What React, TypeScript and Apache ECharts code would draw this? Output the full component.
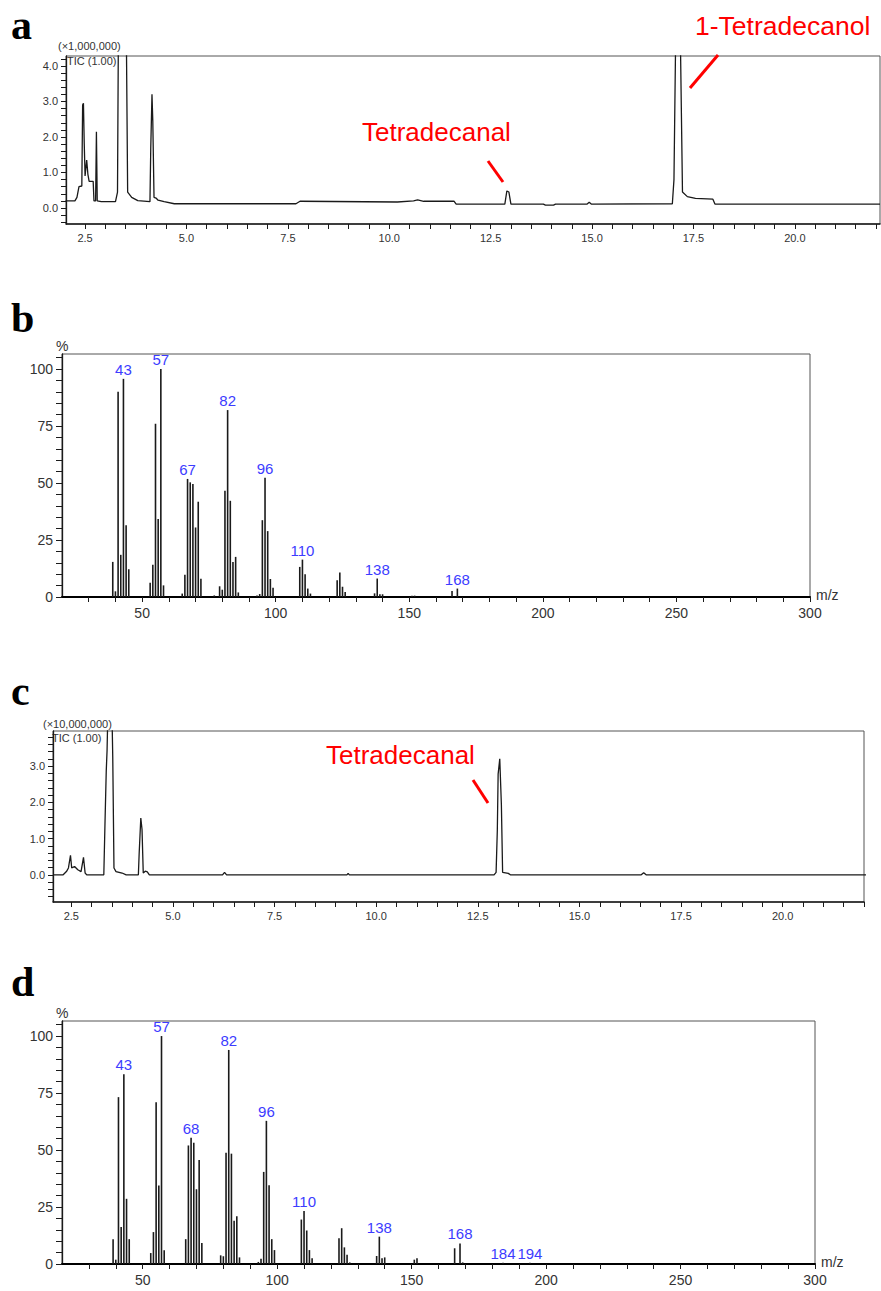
import React, { useEffect, useRef } from "react";
import * as echarts from "echarts";

// ---------- Panel a : TIC chromatogram (x1,000,000) ----------
const aTime = [2.02, 2.25, 2.3, 2.35, 2.42, 2.44, 2.46, 2.48, 2.5, 2.54, 2.57, 2.6, 2.7, 2.72, 2.76, 2.78, 2.8, 2.9, 3.25, 3.3, 3.32, 3.52, 3.55, 3.65, 3.8, 4.1, 4.12, 4.15, 4.17, 4.2, 4.25, 4.3, 4.45, 4.7, 7.7, 7.8, 10.2, 10.6, 10.7, 10.85, 11.6, 11.65, 12.85, 12.9, 12.95, 13.0, 13.8, 13.85, 14.05, 14.1, 14.88, 14.93, 14.98, 16.98, 17.02, 17.06, 17.18, 17.23, 17.35, 17.55, 17.98, 18.03, 22.1];
const aSignal = [0.2, 0.2, 0.3, 0.6, 0.62, 2.9, 2.95, 1.8, 0.9, 1.35, 0.95, 0.75, 0.75, 0.2, 0.2, 2.15, 0.2, 0.18, 0.18, 0.45, 4.6, 4.6, 0.45, 0.3, 0.21, 0.18, 1.7, 3.2, 2.45, 0.3, 0.28, 0.22, 0.18, 0.12, 0.12, 0.19, 0.17, 0.2, 0.23, 0.19, 0.19, 0.11, 0.11, 0.48, 0.45, 0.11, 0.11, 0.08, 0.08, 0.11, 0.11, 0.16, 0.11, 0.12, 0.8, 4.6, 4.6, 0.45, 0.32, 0.27, 0.25, 0.11, 0.11];

// ---------- Panel c : TIC chromatogram (x10,000,000) ----------
const cTime = [2.05, 2.3, 2.38, 2.43, 2.48, 2.51, 2.58, 2.66, 2.74, 2.8, 2.84, 2.88, 3.3, 3.33, 3.36, 3.38, 3.4, 3.5, 3.52, 3.55, 3.6, 3.75, 3.85, 4.15, 4.17, 4.21, 4.24, 4.27, 4.32, 4.37, 4.42, 6.22, 6.27, 6.32, 9.28, 9.31, 9.34, 12.9, 12.95, 12.98, 13.0, 13.04, 13.08, 13.11, 13.25, 13.3, 16.52, 16.58, 16.64, 22.05];
const cSignal = [0.0, 0.0, 0.09, 0.19, 0.54, 0.19, 0.23, 0.14, 0.09, 0.48, 0.05, 0.0, 0.0, 1.48, 2.87, 3.43, 4.5, 4.5, 3.24, 0.19, 0.09, 0.05, 0.0, 0.0, 0.6, 1.57, 1.25, 0.05, 0.1, 0.08, 0.0, 0.0, 0.07, 0.0, 0.0, 0.04, 0.0, 0.0, 0.07, 1.23, 2.78, 3.2, 1.93, 0.07, 0.04, 0.0, 0.0, 0.06, 0.0, 0.0];

// ---------- Panel b : mass spectrum ----------
const bMz = [39, 40, 41, 42, 43, 44, 45, 53, 54, 55, 56, 57, 58, 65, 66, 67, 68, 69, 70, 71, 72, 77, 79, 80, 81, 82, 83, 84, 85, 86, 93, 94, 95, 96, 97, 98, 99, 109, 110, 111, 112, 113, 123, 124, 125, 126, 137, 138, 139, 140, 151, 152, 166, 168];
const bInt = [15.4, 2.5, 90, 18.5, 95.7, 31.5, 12.2, 6.2, 14.2, 76, 34.2, 100, 5.1, 1.5, 9.8, 51.8, 50.3, 49.6, 30.5, 41.8, 8, 0.7, 4.7, 3.2, 46.6, 82, 42.2, 15.4, 17.6, 2, 0.7, 1.3, 33.7, 52.3, 28.9, 7.9, 4.1, 13.2, 16.4, 10, 3.7, 1.5, 7.3, 10.7, 4.5, 2.2, 1.6, 8.1, 1.2, 1.2, 0.6, 0.6, 2.6, 3.7];
const bLabeled = [43, 57, 67, 82, 96, 110, 138, 168];

// ---------- Panel d : mass spectrum ----------
const dMz = [39, 40, 41, 42, 43, 44, 45, 53, 54, 55, 56, 57, 58, 66, 67, 68, 69, 70, 71, 72, 79, 80, 81, 82, 83, 84, 85, 86, 93, 94, 95, 96, 97, 98, 99, 109, 110, 111, 112, 113, 123, 124, 125, 126, 127, 137, 138, 139, 140, 151, 152, 166, 168, 169, 184, 194];
const dInt = [10.9, 1.9, 73.2, 16.2, 83.2, 28.6, 10.9, 4.8, 14, 71, 34.4, 100, 6, 10.9, 52, 55.4, 53.2, 32.8, 45.6, 9.2, 3.8, 3.4, 48.8, 93.9, 48.4, 19, 21, 2.9, 0.9, 2.3, 40.4, 62.8, 34.5, 10.9, 6.1, 19.5, 23.3, 14.7, 6.1, 2.5, 11.3, 15.7, 7.3, 4.1, 0.7, 3.5, 12, 2.5, 2.9, 1.9, 2.5, 6.9, 9, 0.7, 0.5, 0.5];
const dLabeled = [43, 57, 68, 82, 96, 110, 138, 168, 184, 194];

// ---------- Tick labels ----------
const chromXLabels = [2.5, 5.0, 7.5, 10.0, 12.5, 15.0, 17.5, 20.0];
const chromYLabels = [0.0, 1.0, 2.0, 3.0, 4.0];
const msXLabels = [50, 100, 150, 200, 250, 300];
const msYLabels = [0, 25, 50, 75, 100];

const chromXTicks = Array.from({ length: 40 }, (_, i) => 2.5 + i * 0.5);
const chromYTicksA = Array.from({ length: 24 }, (_, i) => Math.round((-0.4 + i * 0.2) * 10) / 10);
const chromYTicksC = Array.from({ length: 24 }, (_, i) => Math.round((-0.6 + i * 0.2) * 10) / 10);
const msXTicks = Array.from({ length: 28 }, (_, i) => 30 + i * 10);
const msYTicks = Array.from({ length: 22 }, (_, i) => i * 5);

const FONT = "'Liberation Sans', Arial, sans-serif";
const INK = "#1a1a1a";
const LABEL = "#333";

function chromX(grid: number, min: number, max: number) {
  return {
    type: "value", gridIndex: grid, min, max,
    axisLine: { show: true, onZero: false, lineStyle: { color: INK, width: 1.5 } },
    axisTick: { show: true, customValues: chromXTicks, length: 5, lineStyle: { color: INK, width: 1 } },
    axisLabel: { customValues: chromXLabels, formatter: (v: number) => v.toFixed(1), fontSize: 11, fontFamily: FONT, color: LABEL, margin: 8 },
    splitLine: { show: false },
  };
}
function chromY(grid: number, min: number, max: number, ticks: number[]) {
  return {
    type: "value", gridIndex: grid, min, max,
    axisLine: { show: true, onZero: false, lineStyle: { color: INK, width: 1.3 } },
    axisTick: { show: true, customValues: ticks, length: 5, lineStyle: { color: INK, width: 1 } },
    axisLabel: { customValues: chromYLabels, formatter: (v: number) => v.toFixed(1), fontSize: 11, fontFamily: FONT, color: LABEL, margin: 8 },
    splitLine: { show: false },
  };
}
function msX(grid: number) {
  return {
    type: "value", gridIndex: grid, min: 20, max: 300,
    axisLine: { show: true, onZero: false, lineStyle: { color: "#000", width: 2 } },
    axisTick: { show: true, customValues: msXTicks, length: 5, lineStyle: { color: INK, width: 1 } },
    axisLabel: { customValues: msXLabels, fontSize: 14, fontFamily: FONT, color: LABEL, margin: 9 },
    splitLine: { show: false },
  };
}
function msY(grid: number) {
  return {
    type: "value", gridIndex: grid, min: 0, max: 106.6,
    axisLine: { show: true, onZero: false, lineStyle: { color: INK, width: 1.3 } },
    axisTick: { show: true, customValues: msYTicks, length: 6, lineStyle: { color: INK, width: 1 } },
    axisLabel: { customValues: msYLabels, fontSize: 14, fontFamily: FONT, color: LABEL, margin: 9 },
    splitLine: { show: false },
  };
}
function spectrum(idx: number, mz: number[], inten: number[], labeled: number[]) {
  return {
    type: "bar", xAxisIndex: idx, yAxisIndex: idx, barWidth: 1.6,
    itemStyle: { color: INK },
    data: mz.map((m, i) => ({
      value: [m, inten[i]],
      label: labeled.includes(m)
        ? { show: true, position: "top", distance: 2, formatter: String(m), color: "#3c3cff", fontSize: 15, fontFamily: FONT }
        : { show: false },
    })),
  };
}
function text(x: number, y: number, t: string, size: number, color: string, align = "left", extra: any = {}) {
  return {
    type: "text", x, y, silent: true,
    style: { text: t, fill: color, fontSize: size, fontFamily: FONT, align, verticalAlign: "middle", textAlign: align, textVerticalAlign: "middle", ...extra },
  };
}
function redLine(x1: number, y1: number, x2: number, y2: number) {
  return { type: "line", silent: true, shape: { x1, y1, x2, y2 }, style: { stroke: "#ff0000", lineWidth: 3 } };
}
function letter(x: number, y: number, t: string) {
  return {
    type: "text", x, y, silent: true,
    style: { text: t, fill: "#000", fontSize: 42, fontWeight: "bold", fontFamily: "'Liberation Serif', 'Times New Roman', serif", align: "left", verticalAlign: "middle", textAlign: "left", textVerticalAlign: "middle" },
  };
}

const gridBase = { show: true, borderColor: "#555", borderWidth: 1, backgroundColor: "transparent", outerBoundsMode: "none", containLabel: false };

export default function App() {
  const ref = useRef<HTMLDivElement>(null);
  useEffect(() => {
    const chart = echarts.init(ref.current!, null, { renderer: "svg" });
    const option: any = {
      animation: false,
      backgroundColor: "#fff",
      grid: [
        { ...gridBase, left: 66, top: 56, width: 814, height: 168 },
        { ...gridBase, left: 62, top: 354, width: 748, height: 243 },
        { ...gridBase, left: 53, top: 731, width: 811, height: 171 },
        { ...gridBase, left: 62, top: 1021, width: 753, height: 243 },
      ],
      xAxis: [chromX(0, 2.03, 22.1), msX(1), chromX(2, 2.05, 22.0), msX(3)],
      yAxis: [chromY(0, -0.45, 4.28, chromYTicksA), msY(1), chromY(2, -0.75, 3.97, chromYTicksC), msY(3)],
      series: [
        {
          type: "line", xAxisIndex: 0, yAxisIndex: 0, showSymbol: false, clip: true,
          lineStyle: { color: INK, width: 1.3 },
          data: aTime.map((t, i) => [t, aSignal[i]]),
        },
        spectrum(1, bMz, bInt, bLabeled),
        {
          type: "line", xAxisIndex: 2, yAxisIndex: 2, showSymbol: false, clip: true,
          lineStyle: { color: INK, width: 1.3 },
          data: cTime.map((t, i) => [t, cSignal[i]]),
        },
        spectrum(3, dMz, dInt, dLabeled),
      ],
      graphic: [
        letter(11, 25, "a"),
        letter(11, 318, "b"),
        letter(11, 691, "c"),
        letter(11, 982, "d"),
        text(58, 46, "(×1,000,000)", 11, LABEL),
        text(67, 61, "TIC (1.00)", 11, LABEL),
        text(43, 724, "(×10,000,000)", 11, LABEL),
        text(52, 738, "TIC (1.00)", 11, LABEL),
        text(362, 132, "Tetradecanal", 26, "#ff0000"),
        redLine(488, 161, 503, 182),
        text(695, 26, "1-Tetradecanol", 26.5, "#ff0000"),
        redLine(718, 55, 690, 88),
        text(326, 755, "Tetradecanal", 26, "#ff0000"),
        redLine(473, 780, 488, 803),
        text(56, 346, "%", 14, LABEL),
        text(816, 595, "m/z", 14, LABEL),
        text(56, 1013, "%", 14, LABEL),
        text(821, 1262, "m/z", 14, LABEL),
      ],
    };
    chart.setOption(option);
    return () => chart.dispose();
  }, []);
  return <div ref={ref} style={{ position: "absolute", left: 0, top: 0, width: 881, height: 1291, background: "#fff" }} />;
}
